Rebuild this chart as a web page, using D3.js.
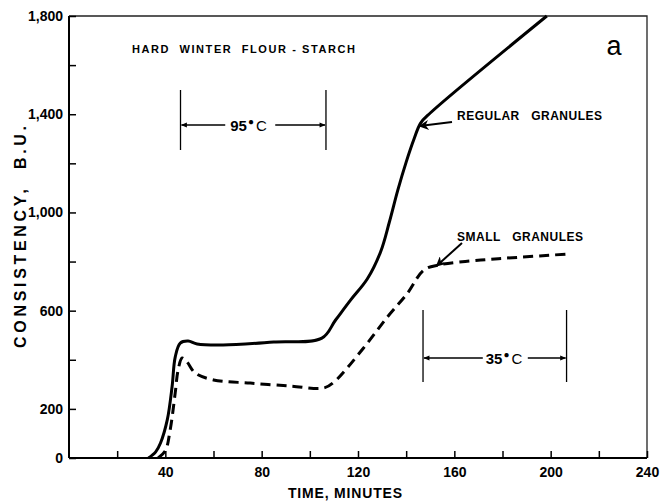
<!DOCTYPE html>
<html>
<head>
<meta charset="utf-8">
<script src="https://cdn.jsdelivr.net/npm/d3@7"></script>
<style>
  body { margin: 0; background: #fff; }
  text { font-family: "Liberation Sans", Arial, sans-serif; fill: #000; white-space: pre; }
</style>
</head>
<body>
<script>
// values (time in minutes, consistency in B.U.)
var regularTime = [33, 36, 38, 40.8, 42.8, 44.1, 46.2, 49.5, 53.2, 64, 85, 105, 110.7, 116.9, 123.9, 129.4, 133, 136.5, 140, 143.3, 146, 150, 198.4];
var regularValue = [0, 25, 61, 155, 290, 411, 468, 476, 464, 460, 472, 488, 562, 643, 730, 840, 960, 1090, 1205, 1300, 1364, 1405, 1800];
var smallTime = [37, 40, 42, 44.1, 45.3, 47, 49, 52.4, 60, 75.3, 92, 105.8, 110, 122.3, 132.2, 140.6, 147.3, 153.5, 171, 187.6, 206.3];
var smallValue = [0, 30, 114, 265, 358, 407, 391, 346, 318, 305, 293, 285, 309, 448, 574, 672, 765, 786, 806, 818, 830];

var xTicks = [20, 40, 60, 80, 100, 120, 140, 160, 180, 200, 220, 240];
var xLabels = [40, 80, 120, 160, 200, 240];
var yTicks = [0, 200, 400, 600, 800, 1000, 1200, 1400, 1600, 1800];
var yLabels = [0, 200, 600, 1000, 1400, 1800];

// temperature brackets [start, end]
var hot = [46.3, 106.7];
var cold = [147, 206.6];

var width = 666, height = 501;
var plotLeft = 69, plotRight = 647, plotTop = 16, plotBottom = 458;

var svg = d3.select('body').append('svg').attr('width', width).attr('height', height);

var x = d3.scaleLinear().domain([0, 240]).range([plotLeft, plotRight]);
var y = d3.scaleLinear().domain([0, 1800]).range([plotBottom, plotTop]);

// frame (top and right)
svg.append('path')
  .attr('d', 'M' + plotLeft + ',' + plotTop + 'H' + plotRight + 'V' + plotBottom)
  .attr('fill', 'none').attr('stroke', '#222').attr('stroke-width', 1.3);

var xAxis = svg.append('g').attr('transform', 'translate(0,' + plotBottom + ')')
  .call(d3.axisBottom(x).tickValues(xTicks).tickSizeInner(-7).tickSizeOuter(0).tickPadding(9)
    .tickFormat(function(d) { return xLabels.indexOf(d) >= 0 ? d : ''; }));
var yAxis = svg.append('g').attr('transform', 'translate(' + plotLeft + ',0)')
  .call(d3.axisLeft(y).tickValues(yTicks).tickSizeInner(-7).tickSizeOuter(0).tickPadding(6)
    .tickFormat(function(d) { return yLabels.indexOf(d) >= 0 ? d3.format(',')(d) : ''; }));

[xAxis, yAxis].forEach(function(g) {
  g.select('.domain').attr('stroke', '#000').attr('stroke-width', 2);
  g.selectAll('.tick line').attr('stroke', '#000').attr('stroke-width', 1.5);
  g.selectAll('.tick text').attr('font-size', 14).attr('font-weight', 'bold')
    .attr('font-family', '"Liberation Sans", Arial, sans-serif');
});
xAxis.select('.domain').attr('d', 'M' + plotLeft + ',0H' + plotRight);
yAxis.select('.domain').attr('d', 'M0,' + plotTop + 'V' + plotBottom);

// texts stretched to the widths seen in the picture
var addText = function(txt, tx, ty, size, len, anchor) {
  return svg.append('text').attr('x', tx).attr('y', ty).attr('font-size', size)
    .attr('font-weight', 'bold').attr('text-anchor', anchor || 'start')
    .attr('textLength', len).attr('lengthAdjust', 'spacing').text(txt);
};

addText('TIME, MINUTES', 345, 498, 14, 114, 'middle');
addText('CONSISTENCY,  B.U.', 0, 0, 16, 222, 'middle')
  .attr('transform', 'translate(26,237) rotate(-90)');
addText('HARD  WINTER  FLOUR - STARCH', 132, 53, 11, 223);
svg.append('text').attr('x', 614).attr('y', 55).attr('text-anchor', 'middle')
  .attr('font-size', 27).text('a');

// curves
var line = d3.line().curve(d3.curveCatmullRom.alpha(0.5))
  .x(function(d) { return x(d[0]); }).y(function(d) { return y(d[1]); });

svg.append('path').datum(d3.zip(regularTime, regularValue))
  .attr('d', line).attr('fill', 'none').attr('stroke', '#000').attr('stroke-width', 3);
svg.append('path').datum(d3.zip(smallTime, smallValue))
  .attr('d', line).attr('fill', 'none').attr('stroke', '#000').attr('stroke-width', 3)
  .attr('stroke-dasharray', '10,6');

// arrowheads
var defs = svg.append('defs');
defs.append('marker').attr('id', 'head').attr('viewBox', '0 0 10 10').attr('refX', 9).attr('refY', 5)
  .attr('markerWidth', 7).attr('markerHeight', 6).attr('orient', 'auto')
  .attr('markerUnits', 'userSpaceOnUse')
  .append('path').attr('d', 'M0,1L10,5L0,9Z').attr('fill', '#000');
defs.append('marker').attr('id', 'head2').attr('viewBox', '0 0 10 10').attr('refX', 9).attr('refY', 5)
  .attr('markerWidth', 11).attr('markerHeight', 10).attr('orient', 'auto')
  .attr('markerUnits', 'userSpaceOnUse')
  .append('path').attr('d', 'M0,0L10,5L0,10L3,5Z').attr('fill', '#000');

// curve labels
var addLabel = function(txt, tx, ty, len, ax, ay, px, py) {
  addText(txt, tx, ty, 12, len);
  svg.append('line').attr('x1', ax).attr('y1', ay).attr('x2', px).attr('y2', py)
    .attr('stroke', '#000').attr('stroke-width', 2).attr('marker-end', 'url(#head2)');
};
addLabel('REGULAR   GRANULES', 457, 120, 145, 452, 122, x(146) - 1, y(1364) + 3);
addLabel('SMALL   GRANULES', 457, 241, 126, 462, 243, x(153) - 1, y(786) + 1);

// temperature brackets: off = [left arrow end, text start, right arrow start] from the middle
var bracket = function(b, label, y1, y2, ya, off) {
  var x1 = x(b[0]), x2 = x(b[1]), xm = (x1 + x2) / 2;
  svg.append('line').attr('x1', x1).attr('x2', x1).attr('y1', y1).attr('y2', y2)
    .attr('stroke', '#000').attr('stroke-width', 1.3);
  svg.append('line').attr('x1', x2).attr('x2', x2).attr('y1', y1).attr('y2', y2)
    .attr('stroke', '#000').attr('stroke-width', 1.3);
  svg.append('line').attr('x1', xm + off[0]).attr('x2', x1 + 1).attr('y1', ya).attr('y2', ya)
    .attr('stroke', '#000').attr('stroke-width', 1.3).attr('marker-end', 'url(#head)');
  svg.append('line').attr('x1', xm + off[2]).attr('x2', x2 - 1).attr('y1', ya).attr('y2', ya)
    .attr('stroke', '#000').attr('stroke-width', 1.3).attr('marker-end', 'url(#head)');
  var t = svg.append('text').attr('x', xm + off[1]).attr('y', ya + 6).attr('font-size', 15)
    .attr('font-weight', 'bold');
  t.append('tspan').text(label);
  t.append('tspan').attr('dy', -6).attr('dx', 1).attr('font-size', 10).text('\u25CF');
  t.append('tspan').attr('dy', 6).attr('font-weight', 'normal').attr('dx', 2).text('C');
};
bracket(hot, '95', 90, 150, 125, [-28, -23, 22]);
bracket(cold, '35', 310, 382, 358, [-12, -9, 33]);
</script>
</body>
</html>
